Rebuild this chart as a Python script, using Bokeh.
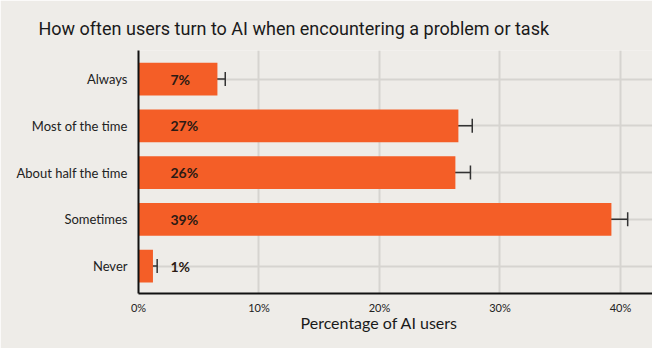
from bokeh.plotting import figure
from bokeh.models import ColumnDataSource, Range1d, FixedTicker, Whisker, TeeHead, Title, NumeralTickFormatter
from bokeh.core.properties import value
from bokeh.embed import file_html
from bokeh.resources import INLINE

categories = ["Always", "Most of the time", "About half the time", "Sometimes", "Never"]
percent = [6.55, 26.55, 26.3, 39.25, 1.2]
err_low = [5.9, 25.4, 25.1, 38.0, 0.9]
err_high = [7.2, 27.7, 27.55, 40.6, 1.55]
bar_labels = ["7%", "27%", "26%", "39%", "1%"]
x_ticks = [0, 10, 20, 30, 40]

BG = "#EEECE8"
ORANGE = "#F45E27"
GRID = "#D6D4D0"
FONT = "Lato"

n = len(categories)
ypos = [n - 1 - i for i in range(n)]
label_x = [2.65] * n

src = ColumnDataSource(dict(y=ypos, v=percent, lo=err_low, hi=err_high, lab=bar_labels, lx=label_x))

p = figure(width=652, height=348, output_backend="svg", toolbar_location=None, title=None,
           x_range=Range1d(0, 42.66), y_range=Range1d(-0.586, 4.61),
           min_border_left=138, min_border_right=0, min_border_bottom=55, min_border_top=0)
p.background_fill_color = BG
p.border_fill_color = BG
p.outline_line_color = None

p.hbar(y="y", right="v", left=0, height=0.7, source=src, color=ORANGE, line_color=None)

w = Whisker(base="y", lower="lo", upper="hi", dimension="width", source=src,
            line_color="#333333", line_width=1.5,
            lower_head=TeeHead(size=14, line_color="#333333", line_width=1.5),
            upper_head=TeeHead(size=14, line_color="#333333", line_width=1.5))
p.add_layout(w)

p.text(x="lx", y="y", text="lab", source=src, text_font=value(FONT), text_font_size="14px",
       text_font_style="bold", text_color="#2B1A14", text_align="left", text_baseline="middle")

p.xaxis.ticker = FixedTicker(ticks=x_ticks)
p.xaxis.formatter = NumeralTickFormatter(format="0")
p.xaxis.major_label_overrides = {t: f"{t}%" for t in x_ticks}
p.yaxis.ticker = FixedTicker(ticks=ypos)
p.yaxis.major_label_overrides = {y: c for y, c in zip(ypos, categories)}

for ax in (p.xaxis[0], p.yaxis[0]):
    ax.axis_line_color = "#111111"
    ax.axis_line_width = 2
    ax.major_tick_line_color = None
    ax.minor_tick_line_color = None
    ax.major_tick_out = 0
    ax.major_tick_in = 0
    ax.major_label_text_font = FONT
    ax.major_label_text_color = "#222222"
p.xaxis.major_label_text_font_size = "11px"
p.yaxis.major_label_text_font_size = "13px"
p.xaxis.major_label_standoff = 7
p.yaxis.major_label_standoff = 11

xl = Title(text="Percentage of AI users", align="left", offset=162, text_font=FONT,
           text_font_size="16px", text_font_style="normal", text_color="#1A1A1A", standoff=-11)
p.add_layout(xl, "below")

p.xgrid.grid_line_color = GRID
p.xgrid.grid_line_width = 2
p.ygrid.grid_line_color = GRID
p.ygrid.grid_line_width = 2

main_title = Title(text="How often users turn to AI when encountering a problem or task",
                   text_font="Roboto", text_font_size="18px", text_font_style="normal",
                   text_color="#1A1A1A", align="left", offset=-100, standoff=24)
p.add_layout(main_title, "above")
spacer = Title(text=" ", text_font_size="1px", standoff=0)
p.add_layout(spacer, "above")

open("out.html", "w").write(file_html(p, INLINE))
